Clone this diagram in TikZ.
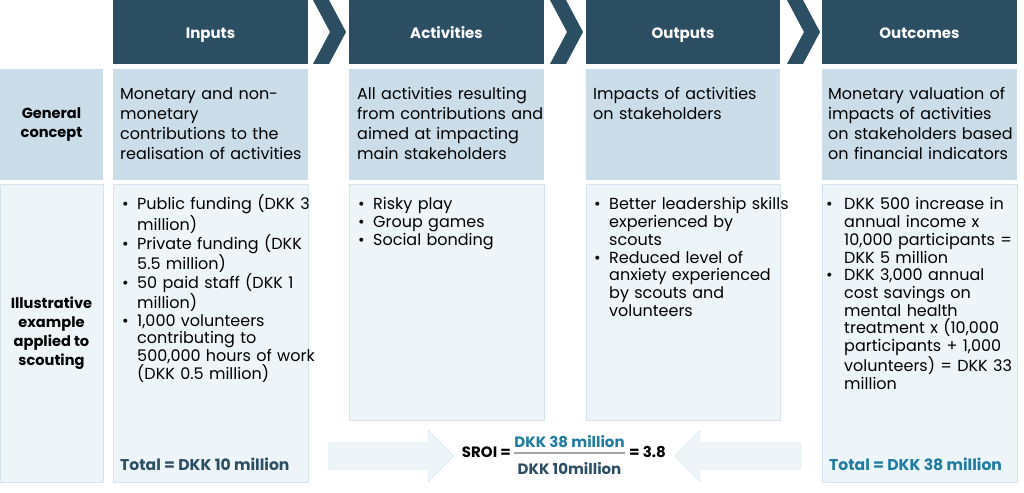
\documentclass[tikz,border=0pt]{standalone}
\usepackage{fontspec}
\setmainfont{Poppins}
\definecolor{hdr}{RGB}{44,78,99}
\definecolor{rowa}{RGB}{202,221,233}
\definecolor{rowb}{RGB}{238,245,248}
\definecolor{rowline}{RGB}{214,227,235}
\definecolor{tealtxt}{RGB}{31,123,160}
\newcommand{\bulitem}[2][15pt]{\par\hangindent=#1\hangafter=1\noindent\makebox[#1][l]{\textbullet}#2\par}
\begin{document}
\begin{tikzpicture}[x=1pt,y=-1pt,line join=round]
		\tikzset{headbox/.style={fill=hdr,text=white,inner sep=0,minimum height=64pt,text height=14pt,text depth=0pt,font=\bfseries\fontsize{15}{18}\selectfont},
			conbox/.style={fill=rowa,inner sep=0,minimum height=111pt},
			exbox/.style={fill=rowb,draw=rowline,thin,inner sep=0},
			rowlab/.style={align=center,font=\bfseries\fontsize{14.6}{19}\selectfont},
			contxt/.style={anchor=north west,inner sep=0,text width=200pt,align=left,font=\fontsize{16}{20}\selectfont},
			extxt/.style={anchor=north west,inner sep=0,text width=200pt,align=left,font=\fontsize{16}{17.7}\selectfont},
			boldtxt/.style={inner sep=0,font=\bfseries\fontsize{15}{18}\selectfont},
			totaltxt/.style={inner sep=0,anchor=base west,font=\bfseries\fontsize{15.6}{18}\selectfont}}
		\useasboundingbox (0,0) rectangle (1024,492);
		%Hàng tiêu đề
		\foreach \xa/\xb/\nm/\txt in {113/308/inp/Inputs,349/544/act/Activities,586/780/outp/Outputs,822/1017/outc/Outcomes}
		\node[headbox,minimum width=\xb pt-\xa pt] (h\nm) at ({(\xa+\xb)/2},32) {\txt};
		\foreach \xc in {313,550,787}
		\fill[hdr] (\xc,0)--(\xc+16,0)--(\xc+33,32)--(\xc+16,64)--(\xc,64)--(\xc+17,32)--cycle;
		%Hàng khái niệm chung
		\node[conbox,minimum width=103pt,rowlab] (gen) at (51.5,124.5) {General\\concept};
		\foreach \xa/\xb/\nm in {113/308/inp,349/544/act,586/780/outp,822/1017/outc}
		\node[conbox,minimum width=\xb pt-\xa pt] (c\nm) at ({(\xa+\xb)/2},124.5) {};
		\node[contxt] (tcinp) at (120,87) {Monetary and non-\\monetary\\contributions to the\\realisation of activities};
		\node[contxt] (tcact) at (357,87) {All activities resulting\\from contributions and\\aimed at impacting\\main stakeholders};
		\node[contxt] (tcoutp) at (593,87) {Impacts of activities\\on stakeholders};
		\node[contxt] (tcoutc) at (828,87) {Monetary valuation of\\impacts of activities\\on stakeholders based\\on financial indicators};
		%Hàng ví dụ
		\node[exbox,minimum width=103pt,minimum height=298pt,rowlab] (ill) at (51.5,333) {Illustrative\\example\\applied to\\scouting};
		\node[exbox,minimum width=195pt,minimum height=298pt] (einp) at (210.5,333) {};
		\node[exbox,minimum width=195pt,minimum height=236pt] (eact) at (446.5,302) {};
		\node[exbox,minimum width=194pt,minimum height=236pt] (eoutp) at (683,302) {};
		\node[exbox,minimum width=195pt,minimum height=298pt] (eoutc) at (919.5,333) {};
		\node[extxt] (teinp) at (122,192) {\bulitem{Public funding (DKK 3\newline million)}
			\bulitem{Private funding (DKK\newline 5.5 million)}
			\bulitem{50 paid staff (DKK 1\newline million)}
			\bulitem{1,000 volunteers\newline contributing to\newline 500,000 hours of work\newline (DKK 0.5 million)}};
		\node[extxt] (teact) at (358,192) {\bulitem{Risky play}
			\bulitem{Group games}
			\bulitem{Social bonding}};
		\node[extxt] (teoutp) at (594,192) {\bulitem{Better leadership skills\newline experienced by\newline scouts}
			\bulitem{Reduced level of\newline anxiety experienced\newline by scouts and\newline volunteers}};
		\node[extxt] (teoutc) at (826,192) {\bulitem[18pt]{DKK 500 increase in\newline annual income x\newline 10,000 participants =\newline DKK 5 million}
			\bulitem[18pt]{DKK 3,000 annual\newline cost savings on\newline mental health\newline treatment x (10,000\newline participants + 1,000\newline volunteers) = DKK 33\newline million}};
		\node[totaltxt,text=hdr] (totin) at (120,470) {Total = DKK 10 million};
		\node[totaltxt,text=tealtxt] (totout) at (829,470) {Total = DKK 38 million};
		%Mũi tên và SROI
		\filldraw[fill=rowb,draw=rowline,thin] (328,442.5)--(428,442.5)--(428,430)--(454,456)--(428,482)--(428,469.5)--(328,469.5)--cycle;
		\filldraw[fill=rowb,draw=rowline,thin] (801,442.5)--(700,442.5)--(700,430)--(675,456)--(700,482)--(700,469.5)--(801,469.5)--cycle;
		\node[boldtxt,anchor=base east] (sroi) at (511,457) {SROI =};
		\node[boldtxt,text=tealtxt,anchor=base] (num) at (569.5,447) {DKK 38 million};
		\node[boldtxt,text=hdr,anchor=base] (den) at (569.5,474) {DKK 10million};
		\coordinate (barl) at (514,453);
		\coordinate (barr) at (625,453);
		\draw[black!35,line width=1.6pt] (barl)--(barr);
		\node[boldtxt,anchor=base west] (res) at (629,457) {= 3.8};
\end{tikzpicture}
\end{document}
